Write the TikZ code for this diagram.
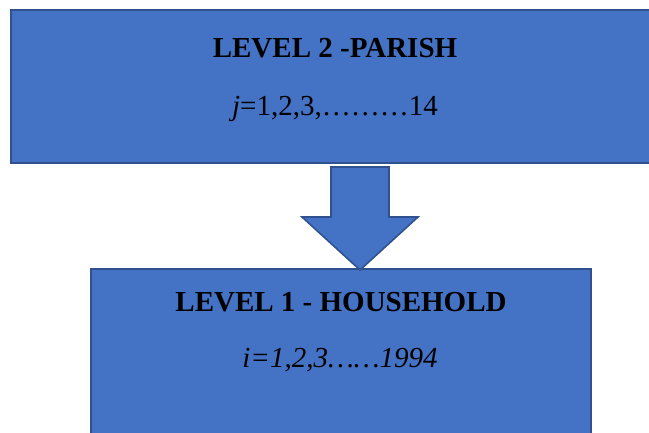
\documentclass[tikz,border=0pt]{standalone}
\usepackage{fontspec}
\setmainfont{Liberation Serif}
\definecolor{boxblue}{HTML}{4472C4}
\definecolor{edgeblue}{HTML}{2F528F}
\begin{document}
\begin{tikzpicture}[x=1pt,y=-1pt,
  levelbox/.style={rectangle, fill=boxblue, draw=edgeblue, line width=2pt, inner sep=0pt},
  bigtext/.style={anchor=base, inner sep=0pt, font=\fontsize{29}{35}\selectfont},
  blockarrow/.style={fill=boxblue, draw=edgeblue, line width=1.6pt, line join=miter}]
  \useasboundingbox (0,0) rectangle (649,432);
  \clip (0,0) rectangle (649,432);

  % upper level
  \node[levelbox, minimum width=648pt, minimum height=153pt] (parish) at (335,86.5) {};
  \node[bigtext] (parishtitle) at (335,57) {\textbf{LEVEL 2 -PARISH}};
  \node[bigtext] (parishindex) at (335,115) {\textit{j}=1,2,3,………14};

  % lower level
  \node[levelbox, minimum width=500pt, minimum height=211pt] (household) at (341,374.5) {};
  \node[bigtext] (householdtitle) at (341,311) {\textbf{LEVEL 1 - HOUSEHOLD}};
  \node[bigtext] (householdindex) at (340,367) {\textit{i=1,2,3……1994}};

  % block arrow from parish level down to household level
  \coordinate (tip) at (360,270);
  \draw[blockarrow] (331,167) -- (389,167) -- (389,217) -- (418,217)
    -- (tip) -- (302,217) -- (331,217) -- cycle;
\end{tikzpicture}
\end{document}
